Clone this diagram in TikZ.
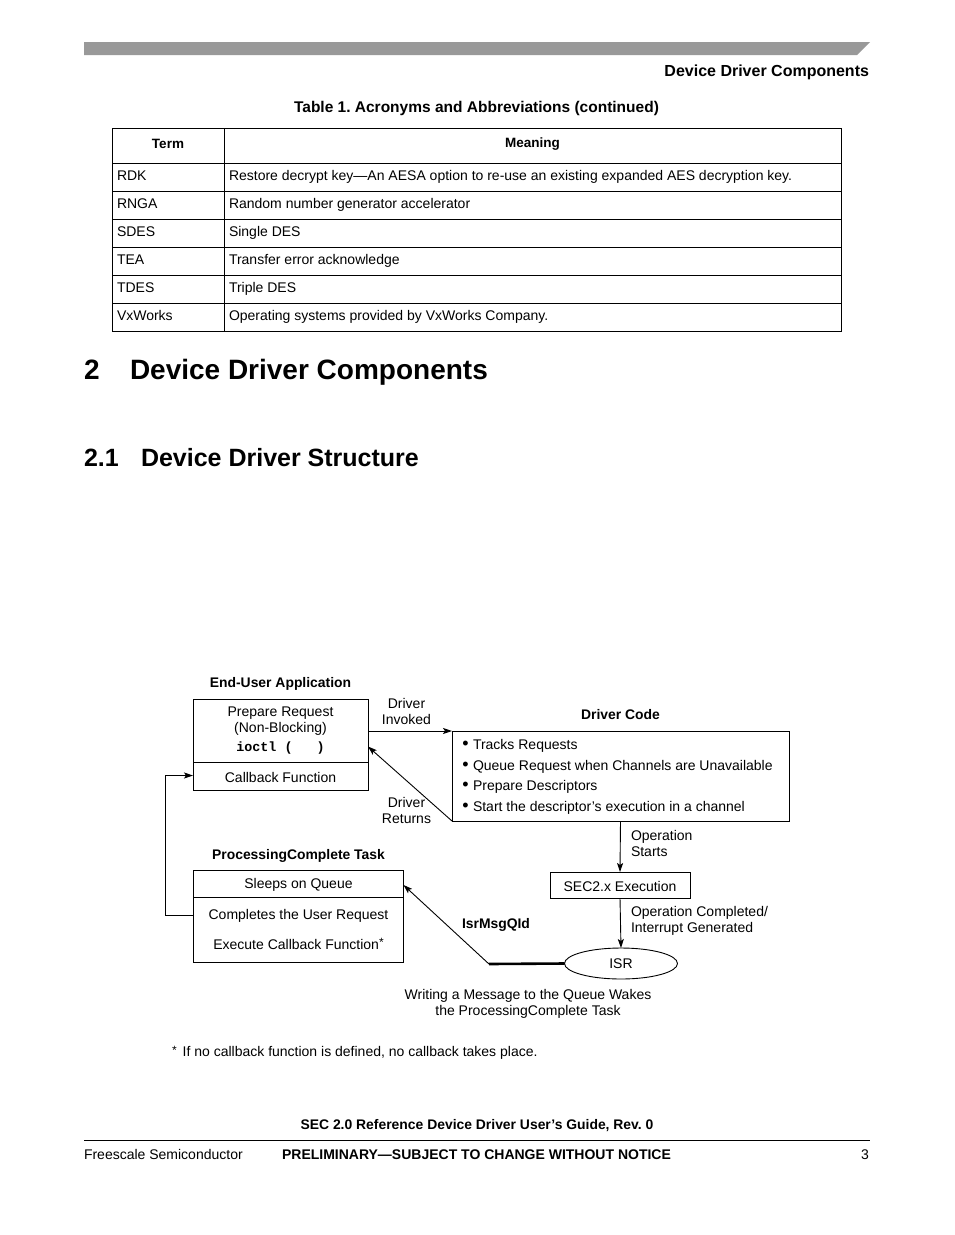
\documentclass[tikz,border=0pt]{standalone}
\usepackage{fontspec}
\setmainfont{Liberation Sans}
\setmonofont{Liberation Mono}
\usetikzlibrary{arrows.meta,shapes.geometric}
\frenchspacing
\begin{document}
\begin{tikzpicture}[x=1pt,y=-1pt,
  every node/.style={inner sep=0pt,outer sep=0pt},
  body/.style={font=\fontsize{14}{16}\selectfont},
  dtxt/.style={font=\fontsize{14}{16}\selectfont},
  btitle/.style={font=\fontsize{15.5}{18}\selectfont\bfseries},
  dbold/.style={font=\fontsize{13.9}{16}\selectfont\bfseries},
  hone/.style={font=\fontsize{28}{32}\selectfont\bfseries},
  htwo/.style={font=\fontsize{25}{30}\selectfont\bfseries},
  bul/.style={font=\fontsize{18}{18}\selectfont},
  boxn/.style={draw,line width=0.9pt,rectangle},
  conn/.style={line width=0.9pt,-{Stealth[length=9pt,width=6pt,inset=2pt]}},
  plain/.style={line width=0.9pt},
  tline/.style={line width=0.9pt}
]
\useasboundingbox (0,0) rectangle (954,1235);
\fill[white] (0,0) rectangle (954,1235);

% header bar
\fill[black!40] (84,42) -- (870,42) -- (857,55) -- (84,55) -- cycle;
\node[font=\fontsize{16}{18}\selectfont\bfseries,anchor=east] (hdr) at (869,72) {Device Driver Components};

% table
\node[btitle] (ttitle) at (476.5,108) {Table 1. Acronyms and Abbreviations (continued)};
\draw[tline] (112,128) rectangle (841,331);
\draw[tline] (224,128) -- (224,331);
\foreach \yy in {163,191,219,247,275,303} \draw[tline] (112,\yy) -- (841,\yy);
\node[font=\fontsize{13.5}{16}\selectfont\bfseries] (th1) at (168,144) {Term};
\node[font=\fontsize{13.5}{16}\selectfont\bfseries] (th2) at (532.5,144) {Meaning};
\foreach \yy/\tt/\mm [count=\i] in {
  180/RDK/{Restore decrypt key—An AESA option to re-use an existing expanded AES decryption key.},
  208/RNGA/{Random number generator accelerator},
  236/SDES/{Single DES},
  264/TEA/{Transfer error acknowledge},
  292/TDES/{Triple DES},
  320/VxWorks/{Operating systems provided by VxWorks Company.}}{
  \node[body,anchor=base west] (term\i) at (117,\yy) {\tt};
  \node[body,anchor=base west] (mean\i) at (229,\yy) {\mm};
}

% headings
\node[hone,anchor=base west] (h1n) at (84,379) {2};
\node[hone,anchor=base west] (h1t) at (130,379) {Device Driver Components};
\node[htwo,anchor=base west] (h2n) at (84,466) {2.1};
\node[htwo,anchor=base west] (h2t) at (141,466) {Device Driver Structure};

% ---------- diagram ----------
\node[dbold] (appt) at (280.5,684) {End-User Application};
\node[boxn,minimum width=175pt,minimum height=91pt] (app) at (280.5,744.5) {};
\draw[plain] (193,762) -- (368,762);
\node[dtxt] (app1) at (280.5,713) {Prepare Request};
\node[dtxt] (app2) at (280.5,729) {(Non-Blocking)};
\node[font=\fontsize{13.4}{15}\selectfont\ttfamily\bfseries] (app3) at (280.5,748) {ioctl (\ \ \ )};
\node[dtxt] (app4) at (280.5,777) {Callback Function};

\node[dtxt,align=center] (inv) at (406.5,711.5) {Driver\\Invoked};
\node[dtxt,align=center] (ret) at (406.5,810.5) {Driver\\Returns};

\node[dbold] (dct) at (620.5,715) {Driver Code};
\node[boxn,minimum width=337pt,minimum height=90pt] (dc) at (620.5,776) {};
\foreach \yy/\tt [count=\i] in {746/Tracks Requests,767/Queue Request when Channels are Unavailable,787/Prepare Descriptors,808/Start the descriptor’s execution in a channel}{
  \node[bul] (bu\i) at (465.5,\yy-0.5) {•};
  \node[dtxt,anchor=west] (dcl\i) at (473,\yy) {\tt};
}

\node[dtxt,align=left,anchor=west] (ops) at (631,843.5) {Operation\\Starts};
\node[boxn,minimum width=140pt,minimum height=26pt] (sec) at (620,885) {};
\node[dtxt] (sect) at (620,886) {SEC2.x Execution};
\node[dtxt,align=left,anchor=west] (opc) at (631,921) {Operation Completed/\\Interrupt Generated};
\node[draw,line width=0.9pt,ellipse,minimum width=113pt,minimum height=31pt] (isr) at (621,963.5) {};
\node[dtxt] (isrt) at (621,964) {ISR};
\node[dbold] (msg) at (496,925) {IsrMsgQId};
\node[dtxt,align=center] (wr) at (528,1004) {Writing a Message to the Queue Wakes\\the ProcessingComplete Task};

\node[dbold] (pct) at (298.5,856) {ProcessingComplete Task};
\node[boxn,minimum width=210pt,minimum height=92pt] (pc) at (298.5,916.5) {};
\draw[plain] (193.5,897.5) -- (403.5,897.5);
\node[dtxt] (pc1) at (298.5,885) {Sleeps on Queue};
\node[dtxt] (pc2) at (298.5,916) {Completes the User Request};
\node[dtxt] (pc3) at (298.5,944) {Execute Callback Function\raisebox{3pt}{\fontsize{12}{12}\selectfont *}};

% connectors
\coordinate (bend) at (489,964);
\coordinate (fbA) at (165.5,915.5);
\coordinate (fbB) at (165.5,775.5);
\draw[conn] (app.east |- dc.north west) -- (dc.north west);
\draw[conn] (dc.south west) -- (app.east |- 0,746.5);
\draw[conn] (dc.south) -- (sec.north);
\draw[conn] (sec.south) -- (isr.north);
\draw[line width=2.6pt] (isr.west) -- (bend);
\draw[conn] (bend) -- (pc.east |- 0,885);
\draw[conn] (pc.west |- fbA) -- (fbA) -- (fbB) -- (app.west |- fbB);

% footnote
\node[dtxt,anchor=west] (fn) at (172,1053) {\raisebox{2pt}{\fontsize{12}{12}\selectfont *}\hspace{6pt}If no callback function is defined, no callback takes place.};

% footer
\node[font=\fontsize{13.9}{16}\selectfont\bfseries] (ft1) at (477,1126) {SEC 2.0 Reference Device Driver User’s Guide, Rev. 0};
\draw[line width=0.8pt] (84,1140) -- (870,1140);
\node[body,anchor=west] (ft2) at (84,1154.5) {Freescale Semiconductor};
\node[font=\fontsize{14}{16}\selectfont\bfseries] (ft3) at (476.5,1154.5) {PRELIMINARY—SUBJECT TO CHANGE WITHOUT NOTICE};
\node[body,anchor=east] (ft4) at (869,1154.5) {3};
\end{tikzpicture}
\end{document}
